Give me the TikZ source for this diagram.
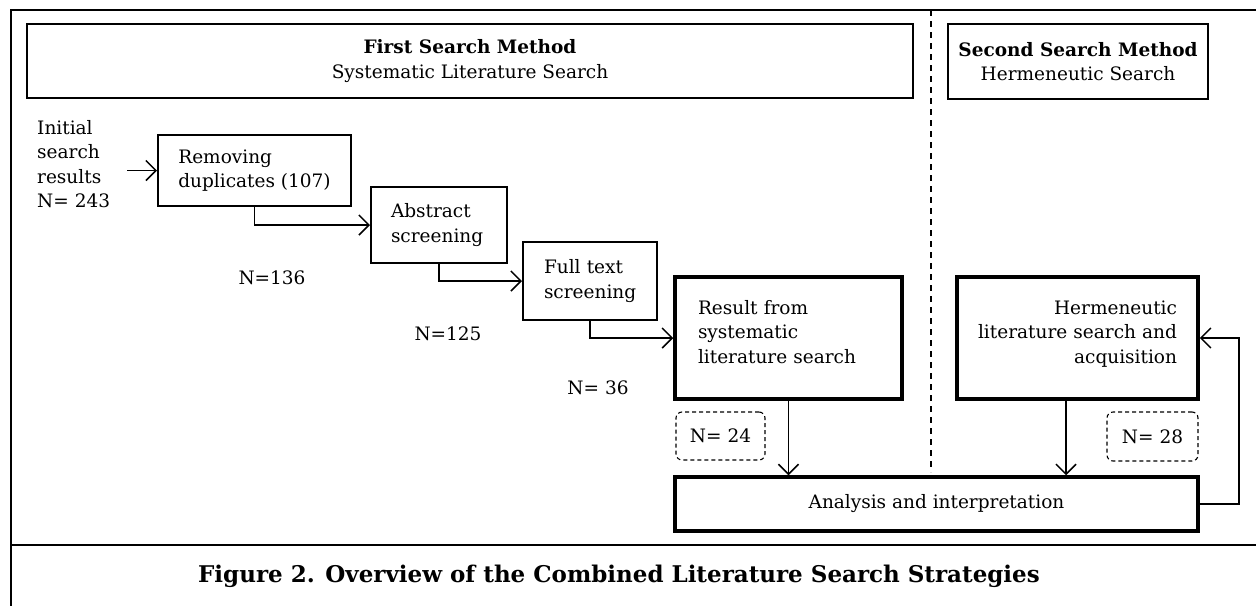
\documentclass[tikz,border=0pt]{standalone}
\usepackage{fontspec}
\setmainfont{DejaVu Serif}
\usetikzlibrary{arrows.meta}
\begin{document}
\begin{tikzpicture}[x=1pt,y=-1pt,
  font=\fontsize{18.5}{24.5}\selectfont,
  box/.style={draw, line width=2pt, inner sep=0pt, align=left},
  thickbox/.style={draw, line width=3.5pt, inner sep=0pt},
  nbox/.style={draw, line width=1.1pt, rounded corners=6pt, dash pattern=on 4pt off 3pt, inner sep=0pt},
  conn/.style={line width=1.5pt, -{Straight Barb[length=10pt,width=20pt,line width=1.5pt]}},
  lbl/.style={inner sep=0pt},
  frameline/.style={line width=2pt},
  divider/.style={line width=2pt, dash pattern=on 6pt off 5pt}
]
\useasboundingbox (0,0) rectangle (1256,606);
% frame
\coordinate (ftr) at (1256,10);
\coordinate (ftl) at (11,10);
\coordinate (fbl) at (11,606);
\draw[frameline] (ftr) -- (ftl) -- (fbl);
\coordinate (sepl) at (11,545);
\coordinate (sepr) at (1256,545);
\draw[line width=2.5pt] (sepl) -- (sepr);
\coordinate (divt) at (931,10);
\coordinate (divb) at (931,472);
\draw[divider] (divt) -- (divb);

% headers
\node[box, minimum width=886, minimum height=74, align=center] (first) at (470,61) {\textbf{First Search Method}\\Systematic Literature Search};
\node[box, minimum width=260, minimum height=75, align=center] (second) at (1078,61.5) {\textbf{Second Search Method}\\Hermeneutic Search};

% first method
\node[lbl, align=left, anchor=west] (init) at (37,164) {Initial\\search\\results\\N= 243};
\node[box, minimum width=193, minimum height=71] (remove) at (254.5,170.5) {Removing\\duplicates (107)};
\node[box, minimum width=136, minimum height=76, text width=96] (abs) at (439,225) {Abstract\\screening};
\node[box, minimum width=134, minimum height=78, text width=92] (full) at (590,281) {Full text\\screening};
\node[thickbox, minimum width=227, minimum height=122, text width=181, align=left, text depth=62pt] (result) at (788.5,338) {Result from\\systematic\\literature search};

\node[lbl] (n136) at (272,278) {N=136};
\node[lbl] (n125) at (448,334) {N=125};
\node[lbl] (n36) at (598,388) {N= 36};

% second method
\node[thickbox, minimum width=241, minimum height=122, text width=199, align=right, text depth=61pt] (herm) at (1077.5,338) {Hermeneutic\\literature search and\\acquisition};

\node[thickbox, minimum width=523, minimum height=54] (ana) at (936.5,504) {Analysis and interpretation};

\node[nbox, minimum width=89, minimum height=48] (n24) at (720.5,436) {N= 24};
\node[nbox, minimum width=91, minimum height=49] (n28) at (1152.5,436.5) {N= 28};

% connectors
\draw[conn] ([xshift=-30pt]remove.west) -- (remove.west);
\draw[conn] (remove.south) |- (abs.west);
\draw[conn] (abs.south) |- (full.west);
\draw[conn] (full.south) |- (result.west);
\draw[conn] (result.south) -- (result.south |- ana.north);
\draw[conn] ([xshift=-11.5pt]herm.south) -- ([xshift=-11.5pt]herm.south |- ana.north);
\draw[conn] (ana.east) -- ++(39,0) |- (herm.east);

% caption
\node[font=\bfseries\fontsize{23}{27}\selectfont, inner sep=0pt] (cap) at (619,576) {Figure 2. Overview of the Combined Literature Search Strategies};
\end{tikzpicture}
\end{document}
